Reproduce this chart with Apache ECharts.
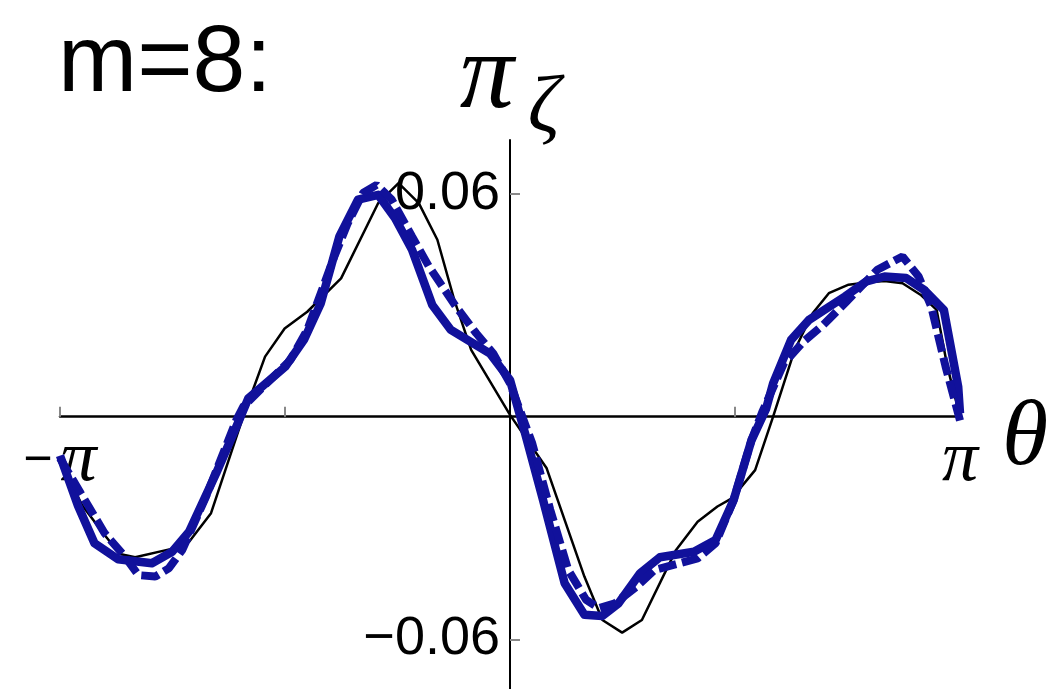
<!DOCTYPE html>
<html><head><meta charset="utf-8">
<script src="https://cdn.jsdelivr.net/npm/echarts@6/dist/echarts.min.js"></script>
<style>html,body{margin:0;padding:0;background:#fff}#c{width:1063px;height:689px}</style>
</head><body><div id="c"></div>
<script>
// theta values are stored in units of pi (theta / pi)
const blackTheta = [-1, -0.95, -0.90, -0.867, -0.833, -0.7545, -0.713, -0.6644, -0.593, -0.5443, -0.5008, -0.4505, -0.3754, -0.2928, -0.2477, -0.2027, -0.1614, -0.1239, -0.0863, 0, 0.0815, 0.1653, 0.2053, 0.2492, 0.2931, 0.369, 0.4169, 0.4609, 0.4928, 0.5447, 0.5847, 0.6326, 0.6725, 0.7085, 0.7524, 0.7923, 0.8323, 0.8722, 0.9121, 0.9481, 0.972, 1];
const blackValue = [-0.012, -0.024, -0.032, -0.0370, -0.0379, -0.0357, -0.0337, -0.0260, 0, 0.0162, 0.0238, 0.0283, 0.0373, 0.0576, 0.0630, 0.0576, 0.0477, 0.0315, 0.0180, 0.0005, -0.0139, -0.0431, -0.0548, -0.0582, -0.0548, -0.0359, -0.0283, -0.0242, -0.0220, -0.0144, 0, 0.0180, 0.0279, 0.0333, 0.0356, 0.0362, 0.0366, 0.0360, 0.0329, 0.0288, 0.0135, 0];

const solidTheta = [-1, -0.96, -0.9234, -0.8709, -0.7958, -0.7508, -0.7132, -0.6532, -0.6081, -0.5818, -0.4992, -0.4580, -0.4204, -0.3791, -0.3378, -0.2928, -0.2553, -0.2177, -0.1727, -0.1314, -0.045, 0, 0.0335, 0.0735, 0.1214, 0.1653, 0.2053, 0.2412, 0.2891, 0.3331, 0.4089, 0.4569, 0.4968, 0.5367, 0.5687, 0.5847, 0.6246, 0.6645, 0.7444, 0.7923, 0.8323, 0.8802, 0.9201, 0.9641, 0.996, 1];
const solidValue = [-0.0105, -0.024, -0.0341, -0.0384, -0.0395, -0.0364, -0.0310, -0.0153, -0.0027, 0.0049, 0.0135, 0.0207, 0.0306, 0.0486, 0.0585, 0.0598, 0.0535, 0.0450, 0.0301, 0.0234, 0.0171, 0.0099, -0.0045, -0.0225, -0.0449, -0.0534, -0.0537, -0.0503, -0.0422, -0.0379, -0.0364, -0.0332, -0.0225, -0.0063, 0.002, 0.009, 0.0207, 0.0261, 0.0324, 0.0365, 0.0378, 0.0374, 0.0342, 0.0288, 0.0081, 0.0009];

const dashedTheta = [-1, -0.9535, -0.9009, -0.8559, -0.8258, -0.7883, -0.7583, -0.7282, -0.6757, -0.6081, -0.593, -0.533, -0.488, -0.4505, -0.3904, -0.3604, -0.3266, -0.2965, -0.2628, -0.2177, -0.1802, -0.1201, -0.0751, -0.0375, 0, 0.0495, 0.0895, 0.1294, 0.1693, 0.1973, 0.2332, 0.2812, 0.3211, 0.377, 0.4169, 0.4569, 0.4968, 0.5367, 0.5607, 0.6086, 0.6526, 0.6965, 0.7444, 0.8163, 0.8722, 0.9081, 0.9361, 0.968, 1];
const dashedValue = [-0.0112, -0.0207, -0.0314, -0.0377, -0.0427, -0.0431, -0.0409, -0.0359, -0.0216, -0.0009, 0.0027, 0.0099, 0.0153, 0.0234, 0.0432, 0.0522, 0.0603, 0.0625, 0.0585, 0.0486, 0.0405, 0.0297, 0.0225, 0.0171, 0.009, -0.0072, -0.0251, -0.0413, -0.0494, -0.0516, -0.0503, -0.0458, -0.0413, -0.0395, -0.0382, -0.0341, -0.0225, -0.0063, 0.0013, 0.0144, 0.0203, 0.0248, 0.0306, 0.0396, 0.0432, 0.0378, 0.0297, 0.0135, -0.001];

const xTickUnits = [-1, -0.5, 0.5, 1];     // tick marks, in units of pi
const xLabelUnits = [-1, 1];               // labelled ticks, in units of pi
const xLabelTexts = ['−π', 'π'];
const yTicks = [-0.06, 0.06];
const yTickLabels = ['−0.06', '0.06'];
const titleText = 'm=8:';

const PI = Math.PI;
const pairs = (ts, vs) => ts.map((t, i) => [t * PI, vs[i]]);
const blue = '#11119b';

// layout
const W = 1063, H = 689;
const grid = {left: 60, right: 103, top: 140, bottom: 0};
const yMin = -0.0734, yMax = 0.0746, xMin = -PI, xMax = PI;
const plotH = H - grid.top - grid.bottom, plotW = W - grid.left - grid.right;
// move axis lines onto the zero of the other axis
const xAxisOffset = -plotH * (0 - yMin) / (yMax - yMin);
const yAxisOffset = -plotW * (0 - xMin) / (xMax - xMin);

const chart = echarts.init(document.getElementById('c'), null, {renderer: 'canvas'});
chart.setOption({
  animation: false,
  backgroundColor: '#fff',
  title: {
    text: titleText, left: 53, top: 12,
    textStyle: {fontFamily: 'Liberation Sans', fontSize: 95, fontWeight: 'normal', color: '#000'}
  },
  grid: Object.assign({containLabel: false, outerBoundsMode: 'none'}, grid),
  xAxis: {
    type: 'value', min: xMin, max: xMax, position: 'bottom', offset: xAxisOffset,
    name: '{t|θ}', nameLocation: 'end', nameGap: 42,
    nameTextStyle: {
      rich: {t: {fontFamily: 'Liberation Serif', fontStyle: 'italic', fontSize: 94, color: '#000', padding: [46, 0, 0, 0]}}
    },
    axisLine: {onZero: false, lineStyle: {color: '#000', width: 2.5}},
    axisTick: {show: true, inside: true, length: 10, lineStyle: {color: '#888', width: 2},
      customValues: xTickUnits.map(u => u * PI)},
    axisLabel: {
      customValues: xLabelUnits.map(u => u * PI),
      margin: 8,
      formatter: v => {
        const s = xLabelTexts[v < 0 ? 0 : 1];
        return s.length > 1 ? '{m|' + s[0] + '}{p|' + s.slice(1) + '}' : '{p|' + s + '}';
      },
      rich: {
        m: {fontFamily: 'Liberation Sans', fontSize: 50, color: '#000', padding: [0, 8, 0, 0]},
        p: {fontFamily: 'Liberation Serif', fontStyle: 'italic', fontSize: 72, color: '#000'}
      }
    },
    splitLine: {show: false}
  },
  yAxis: {
    type: 'value', min: yMin, max: yMax, position: 'left', offset: yAxisOffset,
    name: '{p|π}{z|ζ}', nameLocation: 'end', nameGap: -10,
    nameTextStyle: {
      rich: {
        p: {fontFamily: 'Liberation Serif', fontStyle: 'italic', fontSize: 108, color: '#000', verticalAlign: 'top'},
        z: {fontFamily: 'Liberation Serif', fontStyle: 'italic', fontSize: 80, color: '#000', verticalAlign: 'top', padding: [45, 0, 0, 14]}
      }
    },
    axisLine: {onZero: false, lineStyle: {color: '#000', width: 2}},
    axisTick: {show: true, inside: true, length: 10, lineStyle: {color: '#888', width: 2}, customValues: yTicks},
    axisLabel: {
      customValues: yTicks, margin: 10,
      fontFamily: 'Liberation Sans', fontSize: 54, color: '#000',
      formatter: v => yTickLabels[v < 0 ? 0 : 1]
    },
    splitLine: {show: false}
  },
  series: [
    {type: 'line', name: 'black', data: pairs(blackTheta, blackValue), showSymbol: false, symbol: 'none',
      lineStyle: {color: '#000', width: 2.5}, z: 2},
    {type: 'line', name: 'solid', data: pairs(solidTheta, solidValue), showSymbol: false, symbol: 'none',
      lineStyle: {color: blue, width: 8.5, join: 'round'}, z: 3},
    {type: 'line', name: 'dashed', data: pairs(dashedTheta, dashedValue), showSymbol: false, symbol: 'none',
      lineStyle: {color: blue, width: 8, type: [18, 6], cap: 'butt'}, z: 4}
  ]
});
</script></body></html>
